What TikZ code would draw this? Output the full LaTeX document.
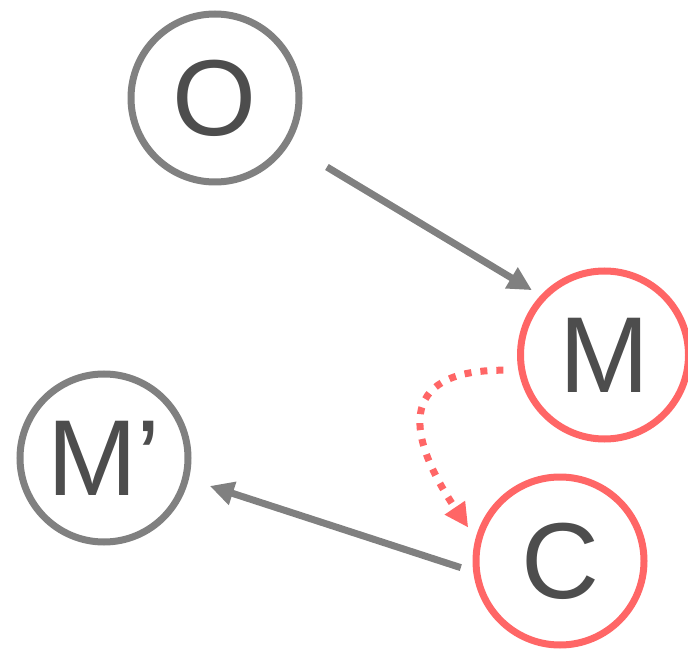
\documentclass[tikz,border=0pt]{standalone}
\usepackage{fontspec}
\setmainfont{Liberation Sans}
\usetikzlibrary{arrows.meta}
\definecolor{ringgray}{HTML}{808080}
\definecolor{ringred}{HTML}{FF6666}
\definecolor{txtgray}{HTML}{4D4D4D}

\begin{document}
\begin{tikzpicture}[x=1pt,y=1pt,line width=7pt,
  >={Triangle[length=24pt,width=23pt]},
  state/.style={circle,draw=ringgray,minimum size=168pt,inner sep=0pt,
    text=txtgray,font=\fontsize{108}{110}\selectfont},
  hot/.style={state,draw=ringred},
  link/.style={->,draw=ringgray},
  hint/.style={->,draw=ringred,dash pattern=on 7pt off 9pt}]
\useasboundingbox (0,0) rectangle (688,649);
% four states
\node[state] (O)  at (215,551) {O};
\node[hot]   (M)  at (604.5,294) {M};
\node[state] (Mp) at (104,191) {M’};
\node[hot]   (C)  at (560,88) {C};
% solid transitions
\draw[link,shorten <=44pt,shorten >=10pt] (O.-32) -- (M.137);
\draw[link,shorten <=13pt,shorten >=22pt] (C.187) -- (Mp.-14);
% dotted hint from M down to C
\draw[hint,shorten <=15pt,shorten >=13pt]
  (M.190) .. controls +(180:125) and +(124:120) .. (C.165);
\end{tikzpicture}
\end{document}
